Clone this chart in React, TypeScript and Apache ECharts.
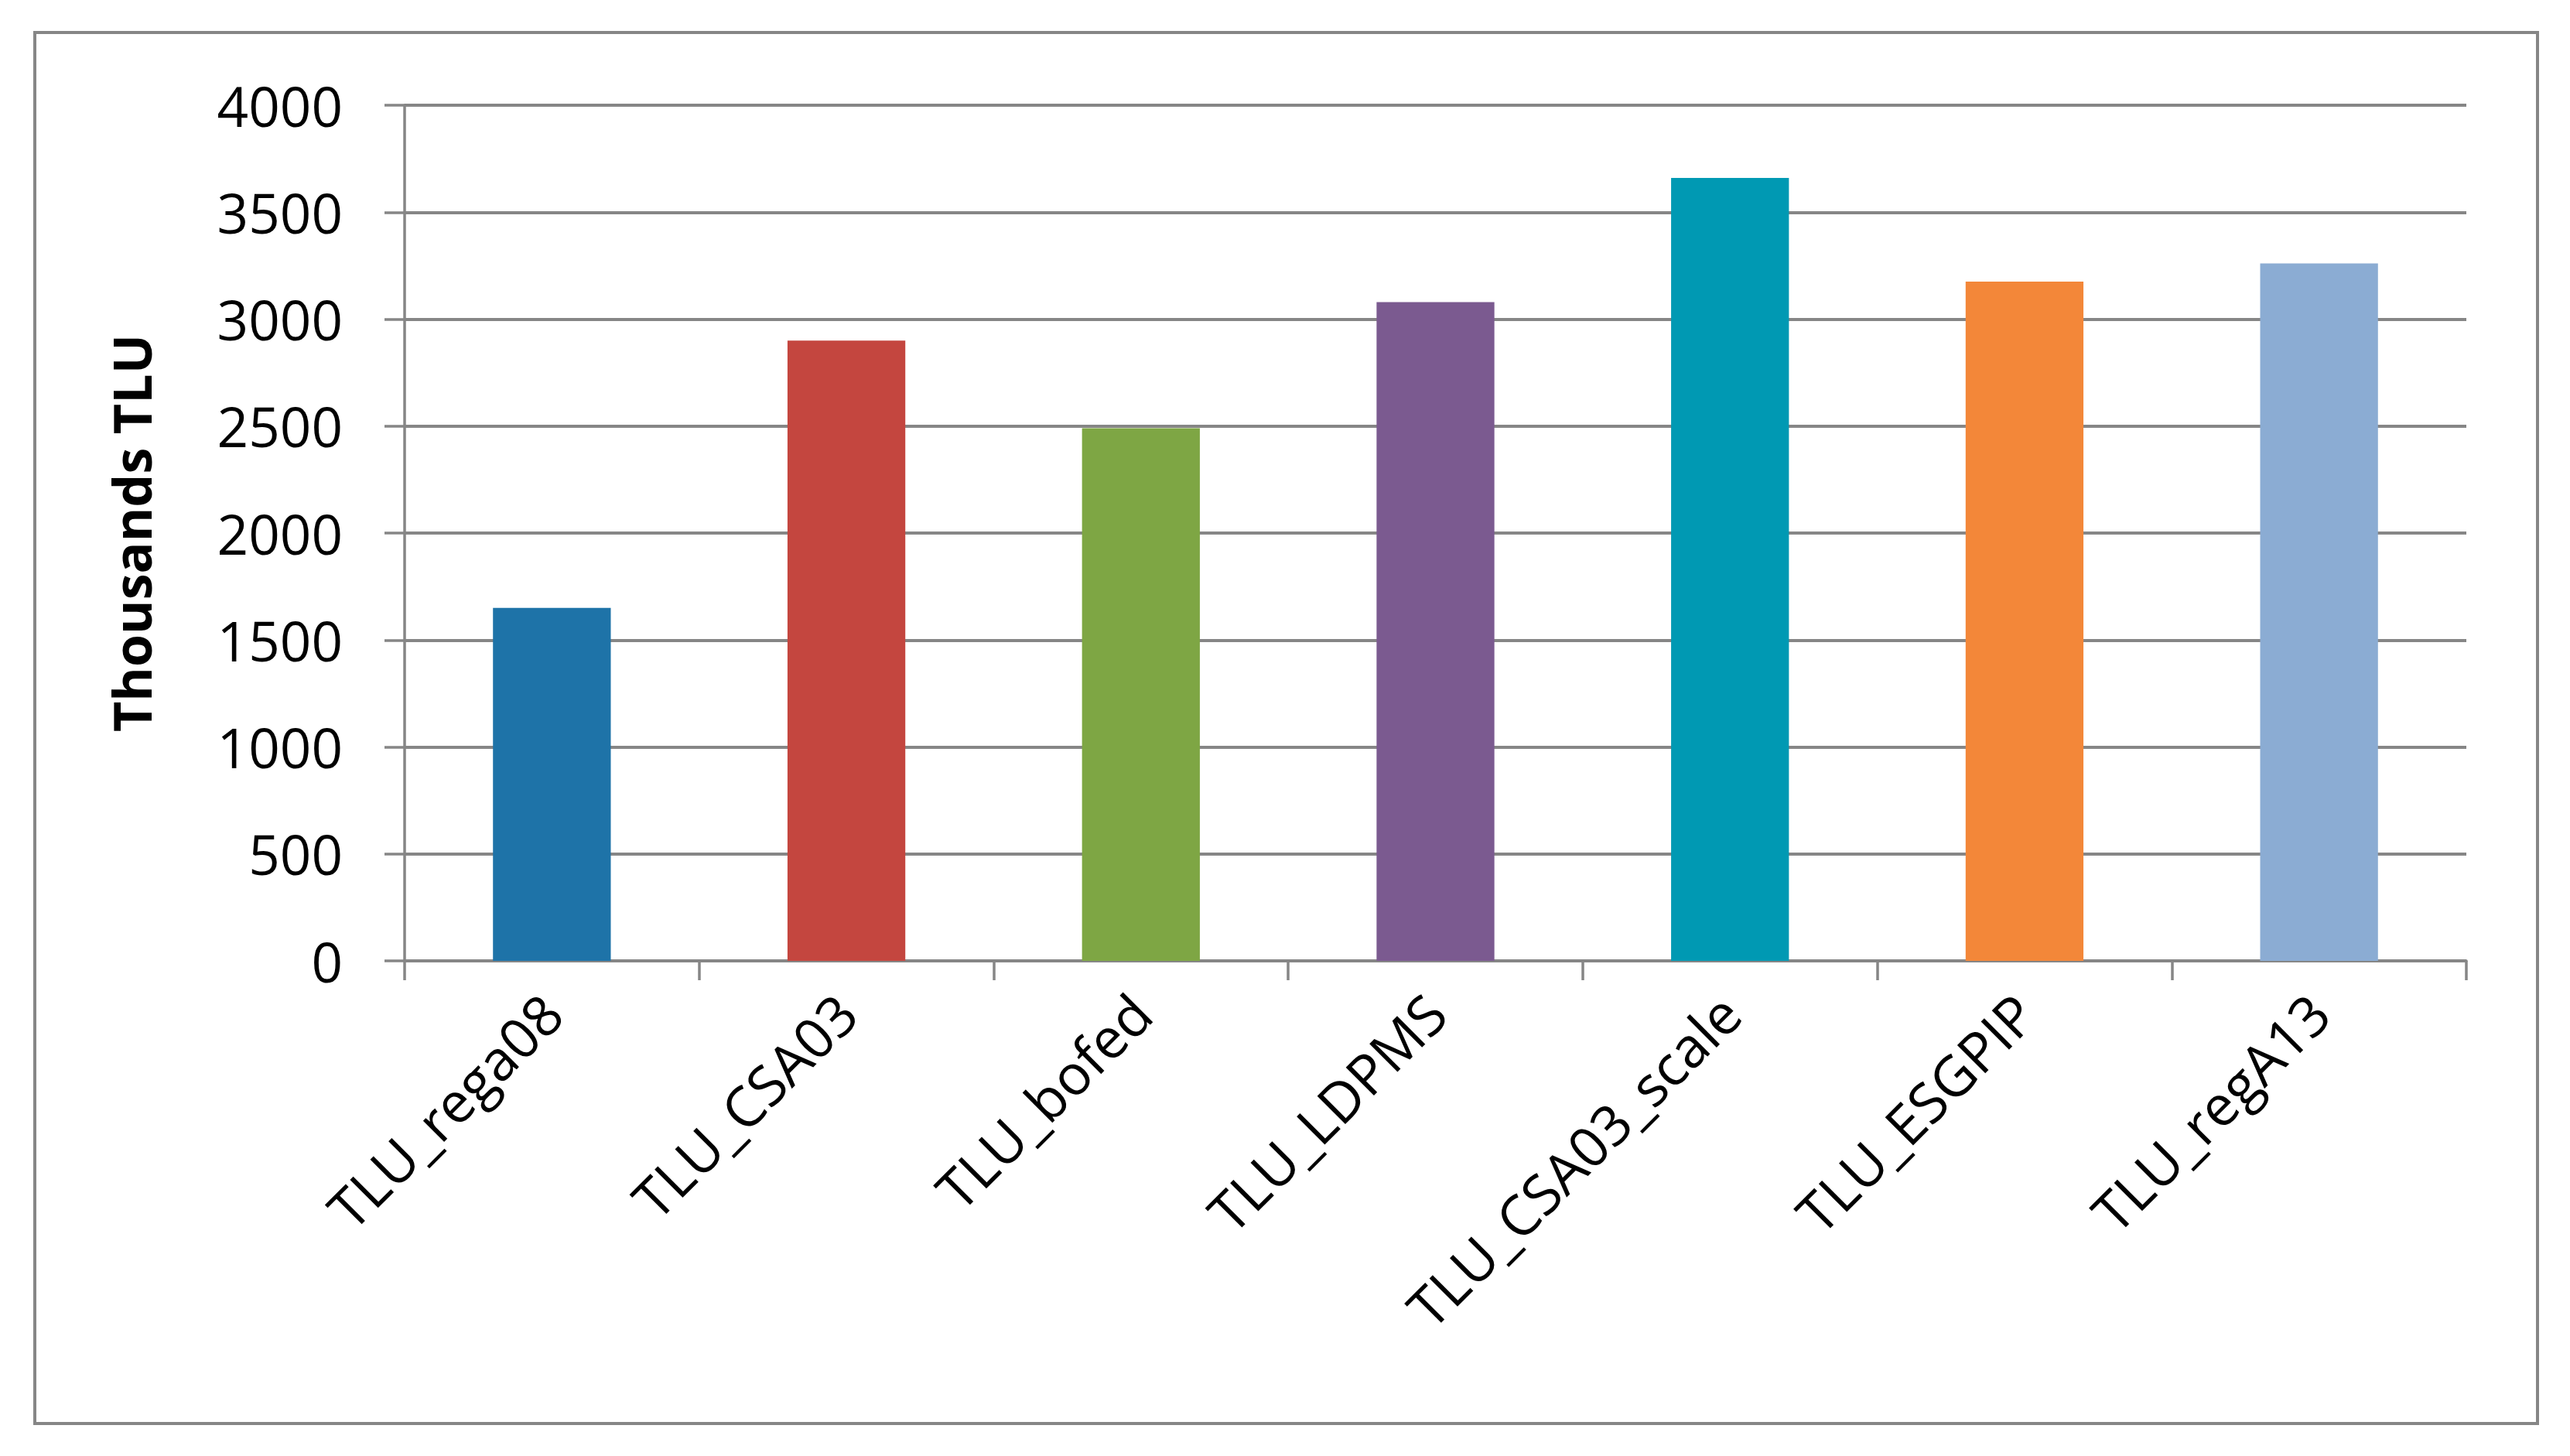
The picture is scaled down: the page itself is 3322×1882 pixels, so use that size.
import React, { useEffect, useRef } from "react";
import * as echarts from "echarts";

const categories = [
  "TLU_rega08",
  "TLU_CSA03",
  "TLU_bofed",
  "TLU_LDPMS",
  "TLU_CSA03_scale",
  "TLU_ESGPIP",
  "TLU_regA13",
];
const values = [1650, 2900, 2490, 3080, 3660, 3175, 3260];
const barColors = [
  "#1E73A8",
  "#C4463F",
  "#7EA644",
  "#7B5A90",
  "#0099B3",
  "#F38739",
  "#8BACD3",
];
const yAxisTitle = "Thousands TLU";
const yMin = 0;
const yMax = 4000;
const yInterval = 500;

export default function App() {
  const ref = useRef<HTMLDivElement>(null);

  useEffect(() => {
    if (!ref.current) return;
    const chart = echarts.init(ref.current, undefined, { renderer: "svg" });
    const gray = "#868686";
    const font = "'Open Sans', 'DejaVu Sans', sans-serif";
    chart.setOption({
      animation: false,
      backgroundColor: "#ffffff",
      grid: { left: 523, right: 134, top: 136, bottom: 640, containLabel: false },
      graphic: [
        {
          type: "rect",
          shape: { x: 45, y: 42, width: 3235, height: 1798 },
          style: { fill: "none", stroke: gray, lineWidth: 4 },
          z: -1,
        },
      ],
      xAxis: {
        type: "category",
        data: categories,
        axisLine: { show: true, lineStyle: { color: gray, width: 3.5 } },
        axisTick: { show: true, inside: false, length: 25, lineStyle: { color: gray, width: 3.5 } },
        axisLabel: {
          interval: 0,
          rotate: 45,
          margin: 55,
          color: "#000",
          fontSize: 72,
          fontFamily: font,
        },
        splitLine: { show: false },
      },
      yAxis: {
        type: "value",
        min: yMin,
        max: yMax,
        interval: yInterval,
        name: yAxisTitle,
        nameLocation: "middle",
        nameRotate: 90,
        nameGap: 320,
        nameTextStyle: {
          color: "#000",
          fontSize: 68,
          fontWeight: "bold",
          fontFamily: font,
        },
        axisLine: { show: true, lineStyle: { color: gray, width: 3.5 } },
        axisTick: { show: true, inside: false, length: 26, lineStyle: { color: gray, width: 3.5 } },
        axisLabel: {
          margin: 80,
          color: "#000",
          fontSize: 71,
          fontFamily: font,
          formatter: (v: number) => String(v),
        },
        splitLine: { show: true, lineStyle: { color: gray, width: 4 } },
      },
      series: [
        {
          type: "bar",
          barCategoryGap: "60%",
          data: values.map((v, i) => ({ value: v, itemStyle: { color: barColors[i] } })),
          z: 3,
        },
      ],
    });
    return () => chart.dispose();
  }, []);

  return (
    <div
      ref={ref}
      style={{ position: "fixed", left: 0, top: 0, width: "3322px", height: "1882px", background: "#fff" }}
    />
  );
}
